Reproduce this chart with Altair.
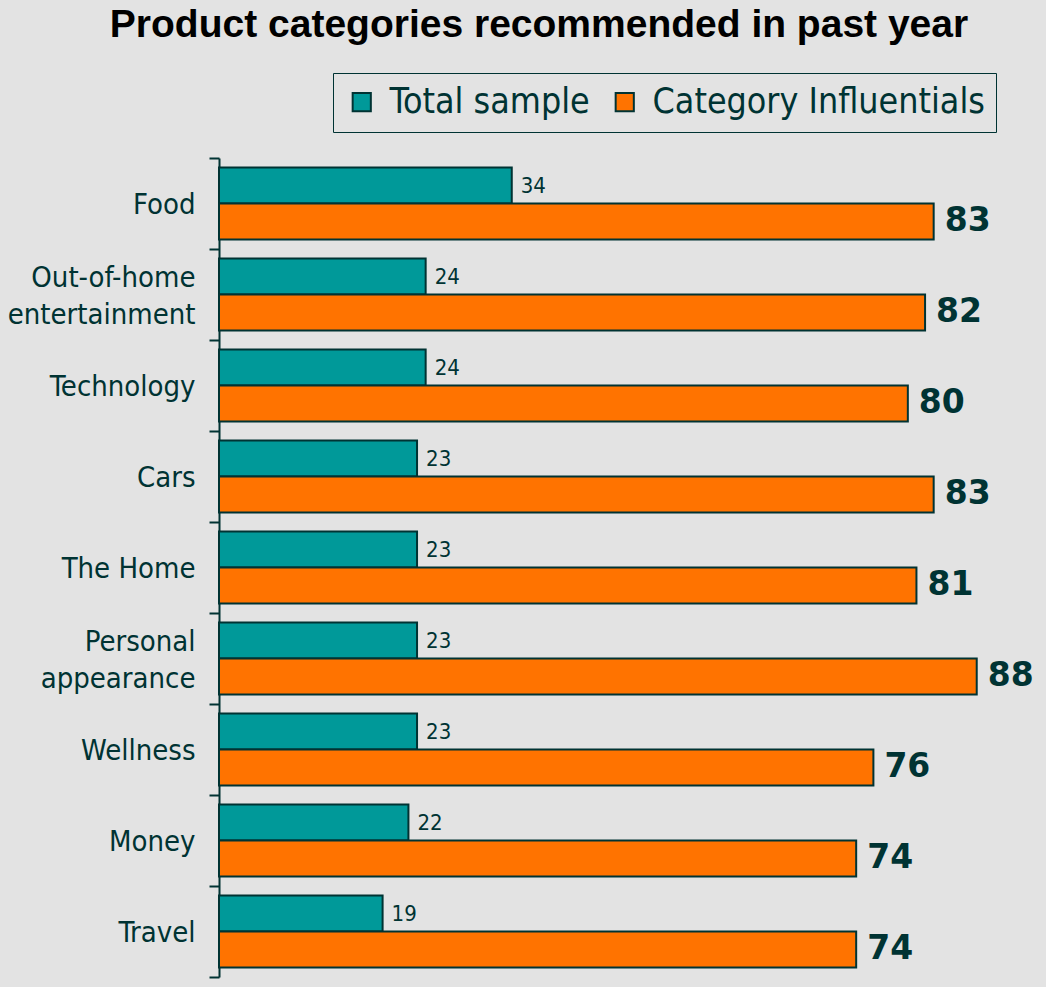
import altair as alt
import pandas as pd

categories = ["Food", "Out-of-home entertainment", "Technology", "Cars", "The Home",
              "Personal appearance", "Wellness", "Money", "Travel"]
total_sample = [34, 24, 24, 23, 23, 23, 23, 22, 19]
influentials = [83, 82, 80, 83, 81, 88, 76, 74, 74]
series = ["Total sample", "Category Influentials"]
colors = ["#009999", "#ff7300"]

ink = "#003333"
bg = "#e3e3e3"
font = "DejaVu Sans Condensed, DejaVu Sans"
bold_font = "DejaVu Sans"

rows = []
for c, t, i in zip(categories, total_sample, influentials):
    rows.append({"category": c, "series": series[0], "value": t})
    rows.append({"category": c, "series": series[1], "value": i})
df = pd.DataFrame(rows)

two_line = "datum.label == 'Out-of-home entertainment' || datum.label == 'Personal appearance'"

y_enc = alt.Y(
    "category:N", sort=categories, title=None,
    scale=alt.Scale(paddingInner=0, paddingOuter=0),
    axis=alt.Axis(
        tickBand="extent", tickSize=10, tickWidth=2, tickColor=ink,
        domainColor=ink, domainWidth=2, labelFont=font, labelFontSize=29,
        labelColor=ink, labelPadding=14, labelLineHeight=37, labelLimit=0,
        labelOffset={"condition": {"test": two_line, "value": -17}, "value": 1},
        labelExpr=f"{two_line} ? split(datum.label, ' ') : datum.label",
    ),
)
yoff_enc = alt.YOffset("series:N", sort=series,
                       scale=alt.Scale(paddingInner=0, paddingOuter=0.264))
x_enc = alt.X("value:Q", axis=None, scale=alt.Scale(domain=[0, 95], nice=False))

base = alt.Chart(df).encode(y=y_enc, yOffset=yoff_enc, x=x_enc)

bars = base.mark_bar(stroke=ink, strokeWidth=2).encode(
    color=alt.Color(
        "series:N", sort=series,
        scale=alt.Scale(domain=series, range=colors),
        legend=alt.Legend(
            title=None, orient="none", direction="horizontal",
            legendX=114, legendY=-85, padding=11, columnPadding=17,
            strokeColor=ink, fillColor=bg, labelLimit=0,
            symbolType="square", symbolSize=330, symbolStrokeColor=ink,
            symbolStrokeWidth=2, symbolOpacity=1, labelFont=font,
            labelFontSize=35.5, labelColor=ink, labelOffset=10,
        ),
    )
)

small = base.transform_filter(alt.datum.series == series[0]).mark_text(
    align="left", baseline="middle", dx=9, font=font, fontSize=22, color=ink
).encode(text="value:Q")

big = base.transform_filter(alt.datum.series == series[1]).mark_text(
    align="left", baseline="middle", dx=11, font=bold_font, fontSize=33,
    fontWeight="bold", color=ink
).encode(text="value:Q")

chart = (
    alt.layer(bars, small, big)
    .properties(
        width=818, height=819,
        padding={"left": 219, "top": 158, "right": 9, "bottom": 10},
        autosize="none",
        background=bg,
        title=alt.TitleParams(
            "Product categories recommended in past year",
            font="Liberation Sans", fontSize=39, fontWeight="bold",
            color="#000000", anchor="middle", frame="group", dx=-89, dy=-24,
        ),
    )
    .configure_view(stroke=None)
)

chart.save("out.html", embed_options={"renderer": "svg", "actions": False})
